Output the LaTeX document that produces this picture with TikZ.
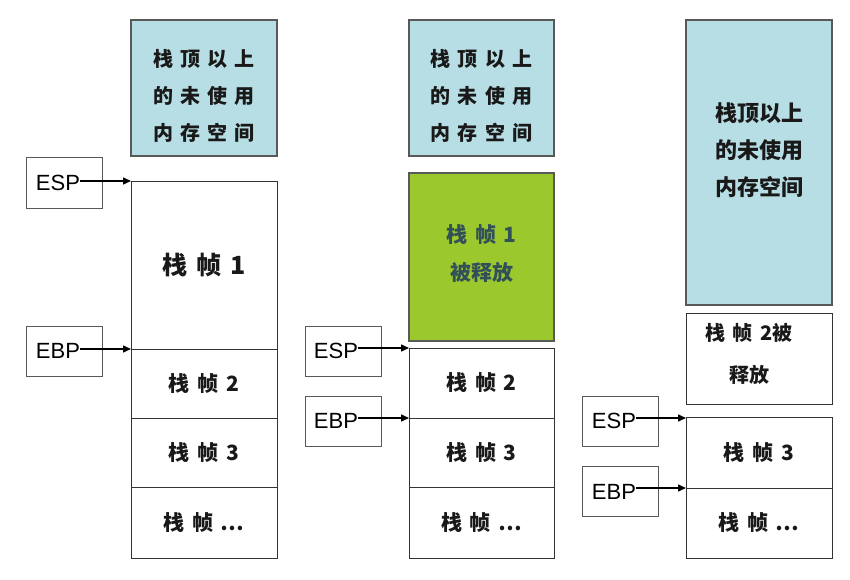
\documentclass[tikz,border=0pt]{standalone}
\usepackage{fontspec}
\setmainfont{Liberation Sans}
\newfontfamily\cjk[WordSpace=1.6]{Noto Sans CJK SC}
\usetikzlibrary{calc,arrows.meta}
\definecolor{skyfill}{RGB}{183,222,228}
\definecolor{leaf}{RGB}{155,200,45}
\definecolor{slate}{RGB}{50,80,88}

\tikzset{
        mem/.style={draw=black!80,line width=0.8pt},
        free/.style={draw=black!65,line width=1.2pt,fill=skyfill},
        gone/.style={draw=black!65,line width=1.2pt,fill=leaf},
        reg/.style={draw=black!65,line width=1pt,minimum width=76pt,minimum height=50pt,inner sep=0pt},
        regname/.style={inner sep=0pt,font=\fontsize{22}{24}\selectfont},
        lbl/.style={inner sep=0pt,align=center,text=black!90,font=\cjk\bfseries\fontsize{21}{37}\selectfont},
        ptr/.style={->,line width=1.5pt},
}

\begin{document}
\begin{tikzpicture}[x=1pt,y=-1pt,>={Triangle[length=8pt,width=7pt]}]
        \useasboundingbox (0,0) rectangle (850,580);
        % first panel
        \draw[free] (131,20) rectangle (277,156);
        \node[lbl,font=\cjk\bfseries\fontsize{20}{37}\selectfont] (free1) at (204,96) {栈 顶 以 上\\的 未 使 用\\内 存 空 间};
        \draw[mem] (131,181) rectangle (277,558);
        \draw[mem] (131,349) -- (277,349);
        \draw[mem] (131,418) -- (277,418);
        \draw[mem] (131,487) -- (277,487);
        \node[lbl,font=\cjk\bfseries\fontsize{25}{28}\selectfont] (f11) at (204,265) {栈 帧 1};
        \node[lbl] (f12) at (204,383.5) {栈 帧 2};
        \node[lbl] (f13) at (204,452.5) {栈 帧 3};
        \node[lbl] (f14) at (204,522.5) {栈 帧 …};
        \coordinate (sp1) at (131,181);
        \coordinate (bp1) at (131,349);
        \node[reg] (spbox1) at (64,183) {};
        \node[regname] (esp1) at (58,183) {ESP};
        \node[reg] (bpbox1) at (64,351) {};
        \node[regname] (ebp1) at (58,351) {EBP};
        \draw[ptr] (esp1.east |- sp1) -- (sp1);
        \draw[ptr] (ebp1.east |- bp1) -- (bp1);
        % second panel
        \draw[free] (409,20) rectangle (554,156);
        \node[lbl,font=\cjk\bfseries\fontsize{20}{37}\selectfont] (free2) at (481.5,96) {栈 顶 以 上\\的 未 使 用\\内 存 空 间};
        \draw[gone] (409,173) rectangle (554,341);
        \node[lbl,text=slate,font=\cjk\bfseries\fontsize{21}{38}\selectfont] (f21) at (481.5,254) {栈 帧 1\\被释放};
        \draw[mem] (409,348) rectangle (554,558);
        \draw[mem] (409,418) -- (554,418);
        \draw[mem] (409,487) -- (554,487);
        \node[lbl] (f22) at (481.5,383) {栈 帧 2};
        \node[lbl] (f23) at (481.5,452.5) {栈 帧 3};
        \node[lbl] (f24) at (481.5,522.5) {栈 帧 …};
        \coordinate (sp2) at (409,348);
        \coordinate (bp2) at (409,418);
        \node[reg] (spbox2) at (343.5,351) {};
        \node[regname] (esp2) at (336,351) {ESP};
        \node[reg] (bpbox2) at (343.5,421) {};
        \node[regname] (ebp2) at (336,421) {EBP};
        \draw[ptr] (esp2.east |- sp2) -- (sp2);
        \draw[ptr] (ebp2.east |- bp2) -- (bp2);
        % third panel
        \draw[free] (686,20) rectangle (832,305);
        \node[lbl,font=\cjk\bfseries\fontsize{22}{37}\selectfont] (free3) at (759,150) {栈顶以上\\的未使用\\内存空间};
        \draw[mem] (686,313) rectangle (832,404);
        \node[lbl,font=\cjk\bfseries\fontsize{20}{42}\selectfont] (f32) at (749,354) {栈 帧 2被\\释放};
        \draw[mem] (686,417) rectangle (832,558);
        \draw[mem] (686,488) -- (832,488);
        \node[lbl] (f33) at (759,452.5) {栈 帧 3};
        \node[lbl] (f34) at (759,523) {栈 帧 …};
        \coordinate (sp3) at (686,418);
        \coordinate (bp3) at (686,488);
        \node[reg] (spbox3) at (620.5,421) {};
        \node[regname] (esp3) at (614,421) {ESP};
        \node[reg] (bpbox3) at (620.5,491.5) {};
        \node[regname] (ebp3) at (614,491.5) {EBP};
        \draw[ptr] (esp3.east |- sp3) -- (sp3);
        \draw[ptr] (ebp3.east |- bp3) -- (bp3);
\end{tikzpicture}
\end{document}
